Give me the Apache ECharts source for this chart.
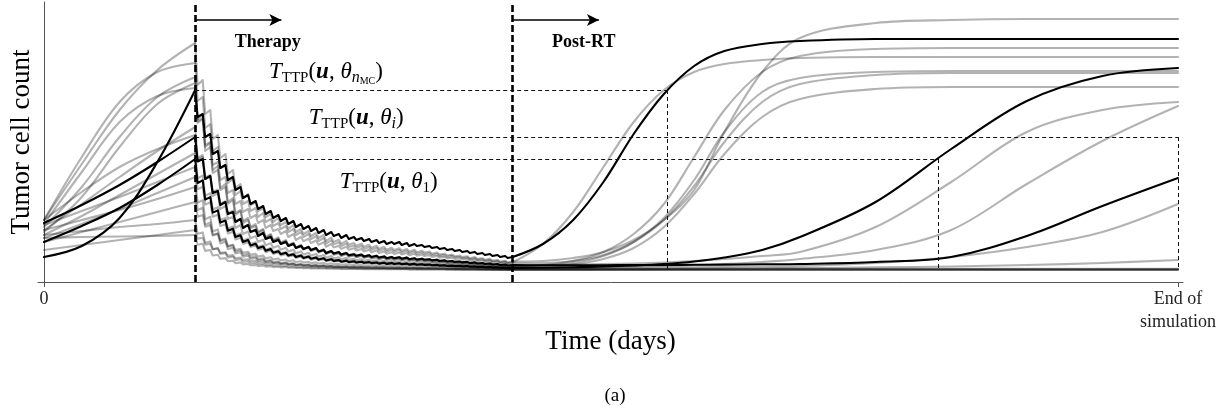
<!DOCTYPE html>
<html><head><meta charset="utf-8">
<script src="https://cdn.jsdelivr.net/npm/echarts@6/dist/echarts.min.js"></script>
<style>html,body{margin:0;padding:0;background:#fff}#c{width:1230px;height:413px}</style>
</head><body><div id="c"></div>
<script>
// ---------------- DATA (time in days, tumour burden in arbitrary units) ----------------
const preDays = [0, 5, 10, 15, 20];
const fractionDays = [20,21,22,23,24,25,26,27,28,29,30,31,32,33,34,35,36,37,38,39,40,41,42,43,44,45,46,47,48,49,50,51,52,53,54,55,56,57,58,59,60,61];
const rtEndDay = 62;
const postDays = [62, 66, 70, 74, 78, 82, 86, 90, 95, 100, 110, 120, 130, 140, 150];
const xTickValues = [0, 150];
const xTickLabels = ['0', 'End of\nsimulation'];
const phaseStarts = [20, 62];
const phaseLabels = ['Therapy', 'Post-RT'];
const ttpDays = [82.5, 118.3, 150];
const ttpLevels = [192, 123, 145];
const baselineLevel = 12;

// black curves (sampled trajectories)  rt = [peak, trough, peak, trough, ..., final]
const B1_pre = [25, 36, 64, 120, 192];
const B1_rt = [192,165,168,145,148,128,131,114,117,102,105,92,95,84,87,78,81,73,76,68,71,64,67,61,64,58,61,55,58,53,56,51,54,49,52,47,50,46,48,44,47,43,45,42,44,41,43,40,42,39,41,38,40,38,40,37,39,36,38,36,37,35,36,34,35,33,34,32,33,31,32,30,31,29,30,28,29,27,28,26,27,25,26,24,25];
const B1_post = [25, 38, 62, 100, 148, 188, 216, 231, 238, 241, 243, 243, 243, 243, 243];

const B2_pre = [59, 77, 97, 120, 145];
const B2_rt = [145,120.5,123,103,106,89,91,77,80,68,70,60,63,54,57,50,52,46,49,43,45,40,42,38,40,36,38,34,36,33,35,32,34,30.5,32,29,31,28.5,30,27.4,29,26.8,27.8,26.2,27.4,25.6,26.8,25,26.2,24.4,25.6,23.8,25,23.7,24.8,23.3,24.4,22.8,23.8,22.4,23.3,22.2,22.8,21.6,22.2,21,21.6,20.5,21,20.1,20.5,19.6,20.1,18.9,19.6,18.5,18.9,18,18.5,17.5,18,16.9,17.5,16.5,16.9];
const B2_post = [16.9, 16.8, 16.8, 16.8, 16.9, 17, 17.2, 17.4, 17.7, 18, 20, 25, 46, 76, 104];

const B3_pre = [40, 56, 74, 97, 123];
const B3_rt = [123,99,101.6,82.5,84.9,69.4,71.6,59.4,61.4,51.3,53.3,44.9,46.7,40.1,41.9,36.6,38.3,33.9,35.5,31.2,32.9,29.2,30.8,27.8,29.2,26.4,27.8,25,26.4,24.1,25.4,23.2,24.4,22.4,23.7,21.4,22.8,21.1,21.9,20.3,21.4,19.9,20.7,19.5,20.3,19.2,19.9,18.9,19.5,18.4,19.2,18.1,18.9,18,18.7,17.8,18.4,17.4,18.1,17.2,17.8,17.1,17.4,16.8,17.1,16.4,16.8,16.1,16.4,15.9,16.1,15.6,15.9,15.2,15.6,15,15.2,14.7,15,14.4,14.7,14.1,14.4,13.9,14.1];
const B3_post = [14.1, 14.3, 14.8, 15.5, 16.5, 18, 20.5, 24.5, 32, 45, 80, 133, 181, 206, 214];

// grey curves
const G1_pre = [62, 118, 172, 212, 239];
const G1_rt = [239,197,202,168,172,143,147,124,128,108,112,94,98,84,88,77,80,71,74,65,68,60,64,57,60,53,57,50,53,48,51,46,49,44,47,41,44.5,40.1,42.2,38.3,41.1,37.2,39,36.3,38.3,35.2,37.2,34.2,36.3,33.1,35.2,32.2,34.2,32,33.8,31.3,33.1,30.4,32.2,29.7,31.3,29.5,30.4,28.3,29.5,27.4,28.3,26.5,27.4,25.8,26.5,24.9,25.8,23.8,24.9,23.1,23.8,22.2,23.1,21.3,22.2,20.4,21.3,19.7,20.4];
const G1_post = [20.4, 21, 24, 30, 42, 62, 92, 150, 210, 244, 259, 262, 263, 263, 263];

const G2_pre = [62, 125, 180, 210, 219];
const G2_rt = [219,181,185,154,158,131,135,114,117,99,103,87,91,78,81,71,74,65,69,60,63,56,59,53,56,50,53,47,50,45,48,43,46,41,44,38.5,41.6,37.7,39.5,36,38.5,35,36.6,34.1,36,33.1,35,32.3,34.1,31.3,33.1,30.4,32.3,30.2,31.9,29.6,31.3,28.8,30.4,28.1,29.6,27.9,28.8,26.9,27.9,26.1,26.9,25.2,26.1,24.6,25.2,23.8,24.6,22.8,23.8,22.1,22.8,21.3,22.1,20.5,21.3,19.7,20.5,19,19.7];
const G2_post = [19.7, 38, 70, 115, 160, 192, 210, 218, 222, 224, 225, 225, 225, 225, 225];

const G3_pre = [55, 95, 145, 185, 205];
const G3_rt = [205,163,168,135,139,112,116,94,98,80,84,69,72,61,64,55,58,50,53,45,48,42,44.6,39.4,42,37.1,39.4,34.6,37.1,33,35.4,31.5,33.6,30.1,32.3,28.4,30.7,27.8,29.2,26.5,28.4,25.7,27.1,25.1,26.5,24.5,25.7,24,25.1,23.2,24.5,22.6,24,22.4,23.6,22,23.2,21.5,22.6,21.1,22,20.9,21.5,20.3,20.9,19.7,20.3,19.1,19.7,18.8,19.1,18.2,18.8,17.6,18.2,17.2,17.6,16.6,17.2,16.2,16.6,15.7,16.2,15.3,15.7];
const G3_post = [15.7, 17, 21, 30, 48, 78, 125, 172, 210, 226, 233, 234, 234, 234, 234];

const G4_pre = [50, 85, 135, 178, 199];
const G4_rt = [199,159,163,131,135,109,112,92,95,78,82,67,71,59,62,54,56,49,52,44,47,41,43.6,38.6,41,36.3,38.6,33.9,36.3,32.4,34.6,30.9,32.9,29.6,31.6,27.9,30.1,27.3,28.6,26,27.9,25.3,26.6,24.7,26,24.2,25.3,23.6,24.7,22.8,24.2,22.3,23.6,22.1,23.2,21.7,22.8,21.2,22.3,20.8,21.7,20.6,21.2,20,20.6,19.5,20,18.9,19.5,18.5,18.9,18,18.5,17.4,18,17,17.4,16.5,17,16.1,16.5,15.6,16.1,15.2,15.6];
const G4_post = [15.6, 16.5, 19, 26, 40, 64, 102, 150, 190, 204, 210, 211, 211, 211, 211];

const G5_pre = [58, 110, 160, 186, 194];
const G5_rt = [194,161,164,137,140,117,120,102,105,89,92,78,81,70,73,64,67,59,62,54,57,51,53,48,51,45,48,42,45,40.8,43.3,38.9,41.5,37.3,39.8,35.3,38,34.6,36.2,33.1,35.3,32.2,33.7,31.5,33.1,30.6,32.2,29.8,31.5,28.9,30.6,28.2,29.8,28,29.5,27.5,28.9,26.7,28.2,26.2,27.5,26,26.7,25.1,26,24.4,25.1,23.6,24.4,23.1,23.6,22.4,23.1,21.5,22.4,20.9,21.5,20.2,20.9,19.5,20.2,18.7,19.5,18.2,18.7];
const G5_post = [18.7, 19, 21, 27, 40, 62, 96, 140, 180, 198, 207, 209, 209, 209, 209];

const G6_pre = [52, 78, 105, 131, 155];
const G6_rt = [155,124,127,103,106,86,89,73,76,63,65,54,57,48,50.5,43.7,45.9,40.2,42.3,36.7,38.9,34.2,36.2,32.3,34.2,30.6,32.3,28.7,30.6,27.6,29.3,26.4,28,25.4,27,24.2,25.9,23.7,24.7,22.7,24.2,22.2,23.2,21.7,22.7,21.3,22.2,20.9,21.7,20.3,21.3,19.9,20.9,19.7,20.6,19.4,20.3,19,19.9,18.7,19.4,18.6,19,18.1,18.6,17.7,18.1,17.3,17.7,17,17.3,16.6,17,16.1,16.6,15.9,16.1,15.4,15.9,15.1,15.4,14.7,15.1,14.4,14.7];
const G6_post = [14.7, 15, 17.5, 23, 34, 55, 88, 128, 165, 183, 193, 195, 195, 195, 195];

const G7_pre = [62, 90, 115, 133, 147];
const G7_rt = [147,122,125,104.5,107,90,92.5,78.4,80.7,68.8,71.3,61,63.3,54.9,57.2,50.5,52.6,46.8,49.1,43.3,45.5,40.6,42.6,38.6,40.6,36.6,38.6,34.5,36.6,33.3,35.2,32,33.9,30.8,32.7,29.3,31.3,28.7,30,27.7,29.3,27,28.1,26.4,27.7,25.8,27,25.2,26.4,24.6,25.8,24,25.2,23.9,25,23.5,24.6,22.9,24,22.5,23.5,22.4,22.9,21.7,22.4,21.2,21.7,20.6,21.2,20.2,20.6,19.7,20.2,19,19.7,18.6,19,18.1,18.6,17.5,18.1,17,17.5,16.6,17];
const G7_post = [17, 17, 17.5, 18, 18.5, 19.5, 21, 23, 26, 30, 55, 100, 150, 172, 180];

const G8_pre = [47, 66, 87, 108, 129];
const G8_rt = [129,103.7,106.4,86.3,88.9,72.5,74.8,62,64.1,53.4,55.5,46.6,48.6,41.6,43.5,38,39.7,35,36.8,32.2,34,30.1,31.8,28.6,30.1,27.2,28.6,25.7,27.2,24.8,26.2,23.8,25.1,23,24.3,21.9,23.3,21.6,22.4,20.8,21.9,20.3,21.1,20,20.8,19.6,20.3,19.3,20,18.8,19.6,18.4,19.3,18.3,19,18.1,18.8,17.7,18.4,17.5,18.1,17.4,17.7,17,17.4,16.7,17,16.3,16.7,16.1,16.3,15.7,16.1,15.4,15.7,15.2,15.4,14.8,15.2,14.6,14.8,14.2,14.6,14,14.2];
const G8_post = [14.2, 14.3, 14.5, 15, 15.5, 16, 17, 18, 20, 23, 32, 52, 98, 141, 176];

const G9_pre = [57, 71, 85, 100, 115];
const G9_rt = [115,92.8,95.1,77.4,79.7,65.3,67.3,56,57.8,48.5,50.3,42.5,44.2,38.1,39.7,34.9,36.4,32.3,33.8,29.8,31.4,28,29.4,26.6,28,25.4,26.6,24.1,25.4,23.2,24.5,22.4,23.5,21.7,22.8,20.8,22,20.4,21.2,19.7,20.8,19.3,20,19,19.7,18.7,19.3,18.4,19,18,18.7,17.7,18.4,17.6,18.2,17.4,18,17,17.7,16.8,17.4,16.7,17,16.4,16.7,16.1,16.4,15.8,16.1,15.6,15.8,15.3,15.6,15,15.3,14.8,15,14.5,14.8,14.3,14.5,14,14.3,13.8,14];
const G9_post = [14, 14, 14.1, 14.2, 14.3, 14.5, 14.7, 15, 15.5, 16, 19, 25, 35, 50, 78];

const G10_pre = [44, 58, 73, 89, 105];
const G10_rt = [105,79.2,81.9,62.8,65.2,50.6,52.6,41.9,43.6,35.3,36.8,30.3,31.8,26.9,28.2,24.6,25.7,22.7,23.8,21,22,19.8,20.7,18.9,19.8,18.1,18.9,17.3,18.1,16.8,17.6,16.4,17,15.9,16.6,15.5,16.2,15.3,15.7,15,15.5,14.8,15.1,14.6,15,14.4,14.8,14.2,14.6,14.1,14.4,14,14.2,13.9,14.1,13.8,14.1,13.7,14,13.6,13.8,13.5,13.7,13.4,13.5,13.3,13.4,13.1,13.3,13,13.1,12.9,13,12.8,12.9,12.7,12.8,12.7,12.7,12.6,12.7,12.5,12.6,12.4,12.5];
const G10_post = [12.5, 12.5, 12.6, 12.7, 12.8, 13, 13.2, 13.4, 13.7, 14, 14.6, 15.5, 17, 19, 22];

const G11_pre = [52, 62, 72, 83, 95];
const G11_rt = [95,72,74.4,57.3,59.5,46.4,48.3,38.6,40.2,32.8,34.2,28.4,29.7,25.3,26.4,23.2,24.2,21.5,22.5,20.1,21,19,19.8,18.1,19,17.5,18.1,16.7,17.5,16.3,17,15.9,16.5,15.5,16.1,15.2,15.7,15,15.3,14.7,15.2,14.5,14.7,14.3,14.7,14.2,14.5,14,14.3,13.9,14.2,13.7,14,13.7,13.9,13.6,13.9,13.5,13.7,13.4,13.6,13.3,13.5,13.2,13.3,13.2,13.2,13,13.2,12.9,13,12.8,12.9,12.7,12.8,12.7,12.7,12.6,12.7,12.5,12.6,12.4,12.5,12.3,12.4];
const G11_post = [12.4, 12.4, 12.4, 12.4, 12.4, 12.4, 12.4, 12.4, 12.4, 12.4, 12.4, 12.4, 12.4, 12.4, 12.4];

const G12_pre = [40, 50, 60, 70, 80];
const G12_rt = [80,65.3,66.9,55.2,56.7,47.2,48.5,41,42.3,36.1,37.3,32.1,33.3,29.2,30.3,27.1,28.1,25.4,26.4,23.8,24.8,22.5,23.5,21.7,22.5,20.8,21.7,20,20.8,19.4,20.2,18.9,19.6,18.4,19.1,17.8,18.6,17.6,18.1,17.1,17.8,16.8,17.3,16.6,17.1,16.4,16.8,16.2,16.6,15.9,16.4,15.7,16.2,15.6,16.1,15.5,15.9,15.3,15.7,15.2,15.5,15.1,15.3,14.9,15.1,14.7,14.9,14.5,14.7,14.4,14.5,14.2,14.4,14,14.2,13.8,14,13.6,13.8,13.5,13.6,13.3,13.5,13.2,13.3];
const G12_post = [13.3, 13.3, 13.3, 13.3, 13.3, 13.3, 13.3, 13.3, 13.3, 13.3, 13.3, 13.3, 13.3, 13.3, 13.3];

const G13_pre = [47, 51, 55, 58, 62];
const G13_rt = [62,48.2,49.6,39.3,40.6,32.8,33.9,28.1,29,24.5,25.4,21.9,22.7,20,20.7,18.8,19.4,17.8,18.4,16.9,17.4,16.2,16.7,15.7,16.2,15.3,15.7,14.9,15.3,14.6,15,14.4,14.7,14.1,14.5,13.9,14.3,13.8,14,13.6,13.9,13.5,13.7,13.4,13.6,13.3,13.5,13.2,13.4,13.2,13.3,13.1,13.2,13,13.2,13,13.2,12.9,13.1,12.9,13,12.8,12.9,12.8,12.8,12.7,12.8,12.6,12.7,12.6,12.6,12.5,12.6,12.5,12.5,12.4,12.5,12.4,12.4,12.3,12.4,12.3,12.3,12.2,12.3];
const G13_post = [12.3, 12.3, 12.3, 12.3, 12.3, 12.3, 12.3, 12.3, 12.3, 12.3, 12.3, 12.3, 12.3, 12.3, 12.3];

const G14_pre = [32, 37, 42, 47, 52];
const G14_rt = [52,43.4,44.3,37.4,38.3,32.7,33.5,29.1,29.8,26.2,26.9,23.8,24.5,22.1,22.8,20.9,21.5,19.9,20.5,18.9,19.5,18.2,18.8,17.7,18.2,17.2,17.7,16.7,17.2,16.4,16.8,16,16.5,15.8,16.2,15.4,15.9,15.3,15.6,15,15.4,14.8,15.1,14.7,15,14.6,14.8,14.5,14.7,14.3,14.6,14.2,14.5,14.1,14.4,14.1,14.3,14,14.2,13.9,14.1,13.8,14,13.7,13.8,13.6,13.7,13.5,13.6,13.4,13.5,13.3,13.4,13.2,13.3,13.1,13.2,13,13.1,12.9,13,12.8,12.9,12.7,12.8];
const G14_post = [12.8, 12.8, 12.8, 12.8, 12.8, 12.8, 12.8, 12.8, 12.8, 12.8, 12.8, 12.8, 12.8, 12.8, 12.8];

const G15_pre = [44, 45, 45.5, 46, 47];
const G15_rt = [47,37.3,38.3,31.1,32,26.5,27.3,23.2,23.9,20.8,21.3,18.9,19.5,17.6,18.1,16.7,17.1,16,16.4,15.4,15.8,14.9,15.3,14.6,14.9,14.3,14.6,14,14.3,13.8,14.1,13.6,13.9,13.5,13.7,13.3,13.6,13.25,13.4,13.1,13.3,13.1,13.2,13,13.1,12.9,13.1,12.8,13,12.8,12.9,12.7,12.8,12.7,12.8,12.7,12.8,12.6,12.7,12.6,12.7,12.6,12.6,12.5,12.6,12.5,12.5,12.4,12.5,12.4,12.4,12.4,12.4,12.3,12.4,12.3,12.3,12.2,12.3,12.2,12.2,12.2,12.2,12.1,12.2];
const G15_post = [12.2, 12.2, 12.2, 12.2, 12.2, 12.2, 12.2, 12.2, 12.2, 12.2, 12.2, 12.2, 12.2, 12.2, 12.2];

// ---------------- BUILD ----------------
const curves = [
  ['G1', G1_pre, G1_rt, G1_post, false], ['G2', G2_pre, G2_rt, G2_post, false],
  ['G3', G3_pre, G3_rt, G3_post, false], ['G4', G4_pre, G4_rt, G4_post, false],
  ['G5', G5_pre, G5_rt, G5_post, false], ['G6', G6_pre, G6_rt, G6_post, false],
  ['G7', G7_pre, G7_rt, G7_post, false], ['G8', G8_pre, G8_rt, G8_post, false],
  ['G9', G9_pre, G9_rt, G9_post, false], ['G10', G10_pre, G10_rt, G10_post, false],
  ['G11', G11_pre, G11_rt, G11_post, false], ['G12', G12_pre, G12_rt, G12_post, false],
  ['G13', G13_pre, G13_rt, G13_post, false], ['G14', G14_pre, G14_rt, G14_post, false],
  ['G15', G15_pre, G15_rt, G15_post, false],
  ['B1', B1_pre, B1_rt, B1_post, true], ['B2', B2_pre, B2_rt, B2_post, true],
  ['B3', B3_pre, B3_rt, B3_post, true]
];

const DROP = 0.32; // the kill of each fraction is drawn as a short, steep drop
function rtPoints(rt) {
  const pts = [];
  for (let k = 0; k < fractionDays.length; k++) {
    pts.push([fractionDays[k], rt[2 * k]]);
    pts.push([fractionDays[k] + DROP, rt[2 * k + 1]]);
  }
  pts.push([rtEndDay, rt[rt.length - 1]]);
  return pts;
}

const FONT = 'Liberation Serif';
const GRAY = 'rgba(0,0,0,0.3)';
const series = [];
curves.forEach(([name, pre, rt, post, black]) => {
  if (rt.length !== 2 * fractionDays.length + 1) throw new Error(name + ' rt length ' + rt.length);
  if (pre.length !== preDays.length) throw new Error(name + ' pre length');
  if (post.length !== postDays.length) throw new Error(name + ' post length');
  const base = {
    type: 'line', symbol: 'none', showSymbol: false, silent: true, animation: false,
    z: black ? 4 : 3,
    lineStyle: { color: black ? '#000' : GRAY, width: 2.1, join: 'round', cap: 'round' }
  };
  series.push(Object.assign({}, base, { smooth: 0.35, data: preDays.map((d, i) => [d, pre[i]]) }));
  series.push(Object.assign({}, base, { smooth: false, data: rtPoints(rt) }));
  series.push(Object.assign({}, base, { smooth: 0.35, data: postDays.map((d, i) => [d, post[i]]) }));
});

const thin = { type: [4, 3], width: 1, color: '#111' };
const mlData = [];
phaseStarts.forEach(d => mlData.push({ xAxis: d, lineStyle: { type: [7, 3], width: 2.6, color: '#000' } }));
ttpDays.forEach((d, i) => {
  mlData.push([{ coord: [phaseStarts[0], ttpLevels[i]], lineStyle: thin }, { coord: [d, ttpLevels[i]] }]);
  mlData.push([{ coord: [d, ttpLevels[i]], lineStyle: thin }, { coord: [d, baselineLevel] }]);
});
const arrowLevel = 262, arrowLen = 11.4;
phaseStarts.forEach(d => mlData.push([
  { coord: [d, arrowLevel], symbol: 'none', lineStyle: { type: 'solid', width: 1.6, color: '#000' } },
  { coord: [d + arrowLen, arrowLevel], symbol: 'arrow', symbolSize: [9, 12] }
]));
series.push({
  type: 'line', data: [], silent: true, z: 6,
  markLine: { silent: true, animation: false, symbol: ['none', 'none'], label: { show: false }, data: mlData }
});

const chart = echarts.init(document.getElementById('c'));
chart.setOption({
  animation: false,
  backgroundColor: '#fff',
  title: { text: '(a)', left: 'center', top: 382, textStyle: { fontFamily: FONT, fontSize: 19, fontWeight: 'normal', color: '#000' } },
  grid: { left: 38, right: 47, top: 2, bottom: 131, containLabel: false },
  xAxis: {
    type: 'value', min: -0.79, max: 150.66,
    name: 'Time (days)', nameLocation: 'middle', nameGap: 46, nameMoveOverlap: false,
    nameTextStyle: { fontFamily: FONT, fontSize: 27, color: '#000' },
    axisLine: { lineStyle: { color: '#555', width: 1 } },
    axisTick: { show: true, customValues: xTickValues, length: 5, lineStyle: { color: '#555' } },
    axisLabel: {
      customValues: xTickValues, margin: 6, showMinLabel: true, showMaxLabel: true,
      fontFamily: FONT, fontSize: 18, color: '#222', lineHeight: 23,
      formatter: v => xTickLabels[xTickValues.indexOf(v)]
    },
    splitLine: { show: false }
  },
  yAxis: {
    type: 'value', min: 0, max: 280,
    name: 'Tumor cell count', nameLocation: 'middle', nameGap: 3, nameRotate: 90, nameMoveOverlap: false,
    nameTextStyle: { fontFamily: FONT, fontSize: 27, color: '#000' },
    axisLine: { show: true, lineStyle: { color: '#555', width: 1 } },
    axisTick: { show: false }, axisLabel: { show: false }, splitLine: { show: false }
  },
  series: series
});

// ---------------- ANNOTATIONS ----------------
const P = (x, y) => chart.convertToPixel({ gridIndex: 0 }, [x, y]);
const rich = {
  i: { fontFamily: FONT, fontStyle: 'italic', fontSize: 23, lineHeight: 28, color: '#000' },
  n: { fontFamily: FONT, fontSize: 23, lineHeight: 28, color: '#000' },
  b: { fontFamily: FONT, fontStyle: 'italic', fontWeight: 'bold', fontSize: 23, lineHeight: 28, color: '#000' },
  s: { fontFamily: FONT, fontSize: 15, lineHeight: 12, verticalAlign: 'bottom', color: '#000' },
  si: { fontFamily: FONT, fontStyle: 'italic', fontSize: 16, lineHeight: 12, verticalAlign: 'bottom', color: '#000' },
  ss: { fontFamily: FONT, fontSize: 10, lineHeight: 6, verticalAlign: 'bottom', color: '#000' }
};
const ttpTexts = [
  '{i|T}{s|TTP}{n|(}{b|u}{n|, }{i|θ}{si|n}{ss|MC}{n|)}',
  '{i|T}{s|TTP}{n|(}{b|u}{n|, }{i|θ}{si|i}{n|)}',
  '{i|T}{s|TTP}{n|(}{b|u}{n|, }{i|θ}{s|1}{n|)}'
];
const ttpLabelPos = [[37.3, 210], [41.3, 164], [45.6, 100]];
const phaseLabelPos = [[29.6, 240], [71.4, 240]];
const g = [];
phaseLabels.forEach((t, i) => {
  const p = P(phaseLabelPos[i][0], phaseLabelPos[i][1]);
  g.push({ type: 'text', x: p[0], y: p[1], z: 10, style: { text: t, fontFamily: FONT, fontWeight: 'bold', fontSize: 18, fill: '#000', align: 'center', verticalAlign: 'middle' } });
});
ttpTexts.forEach((t, i) => {
  const p = P(ttpLabelPos[i][0], ttpLabelPos[i][1]);
  g.push({ type: 'text', x: p[0], y: p[1], z: 10, style: { text: t, rich: rich, align: 'center', verticalAlign: 'middle' } });
});
chart.setOption({ graphic: g });
</script>
</body></html>
